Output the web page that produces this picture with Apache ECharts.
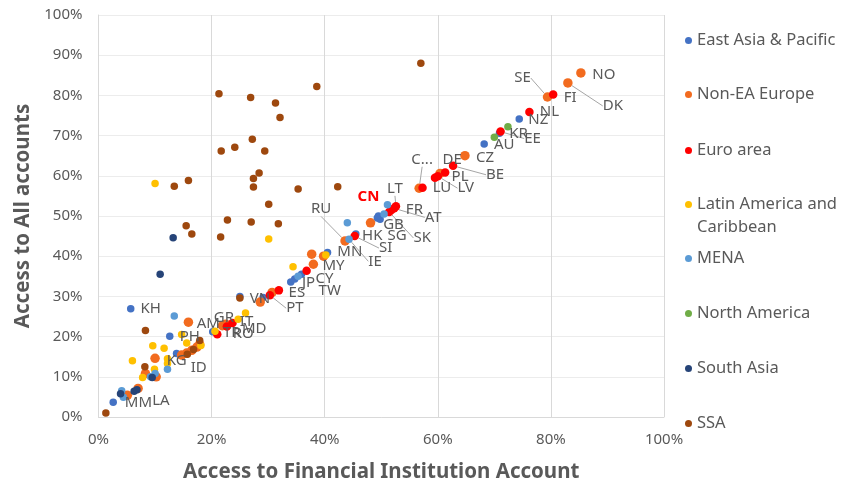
<!DOCTYPE html>
<html>
<head>
<meta charset="utf-8">
<script src="https://cdn.jsdelivr.net/npm/echarts@6/dist/echarts.min.js"></script>
<style>
  html, body { margin: 0; padding: 0; background: #fff; }
  #main { width: 842px; height: 490px; }
</style>
</head>
<body>
<div id="main"></div>
<script>
// [access to financial institution account %, access to all accounts %, label]
var eastAsiaPacific = [
  [5.7, 26.9, 'KH'], [12.6, 20.1, 'PH'], [13.8, 15.8], [15.6, 15.8, 'ID'], [2.6, 3.7],
  [20.2, 21.2], [25.0, 30.0], [29.1, 29.7, 'VN'], [34.0, 33.6], [34.7, 34.3, 'TW'],
  [35.9, 35.5, 'JP'], [40.5, 40.9, 'MY'], [45.5, 45.5, 'MN'], [49.3, 49.5, 'HK'],
  [49.8, 49.2, 'SG'], [49.5, 50.0, 'CN'], [68.2, 67.9, 'AU'], [70.9, 70.6, 'KR'], [74.4, 74.1, 'NZ']
];
var nonEaEurope = [
  [15.9, 23.6], [10.0, 14.6], [8.3, 10.8], [10.2, 10.0], [5.1, 5.4], [7.0, 7.1],
  [14.7, 15.4, 'KG'], [15.6, 15.9], [16.5, 16.6], [17.4, 17.4], [17.9, 18.0],
  [21.9, 22.7, 'AM'], [22.5, 23.1, 'TR'], [28.6, 28.6], [30.7, 31.0], [37.7, 40.5],
  [38.0, 38.0], [39.8, 40.0], [43.6, 43.8, 'RU'], [48.1, 48.3, 'GB'], [56.7, 56.9, 'C...'],
  [60.4, 60.6, 'PL'], [64.8, 65.0, 'CZ'], [79.4, 79.6, 'SE'], [83.0, 83.1, 'DK'], [85.3, 85.6, 'NO']
];
var euroArea = [
  [21.0, 20.6, 'RO'], [22.7, 22.5, 'GR'], [23.7, 23.4, 'IT'], [30.3, 30.3, 'PT'], [31.9, 31.5, 'ES'],
  [36.8, 36.4, 'CY'], [45.3, 45.0, 'SI'], [51.4, 51.0, 'SK'], [51.8, 51.5, 'FR'], [52.3, 51.9, 'AT'],
  [52.6, 52.4, 'LT'], [57.3, 57.0], [59.5, 59.5, 'LU'], [60.0, 59.9, 'LV'], [61.3, 60.8, 'DE'],
  [62.7, 62.5, 'BE'], [71.1, 71.0, 'EE'], [76.2, 75.9, 'NL'], [80.4, 80.2, 'FI']
];
var latinAmerica = [
  [10.0, 58.1], [30.1, 44.3], [14.7, 20.5], [15.6, 18.4], [9.6, 17.7], [11.6, 17.1],
  [6.0, 14.0], [12.2, 14.5], [12.2, 13.3], [18.1, 17.8], [9.9, 11.9], [7.8, 9.8],
  [20.6, 21.3], [24.7, 24.3, 'MD'], [26.0, 25.9], [34.4, 37.4], [40.2, 40.3]
];
var mena = [
  [13.4, 25.1], [12.2, 11.9], [9.2, 10.0], [10.0, 10.8], [4.1, 6.5], [4.4, 4.9, 'MM'],
  [35.3, 35.0], [44.0, 48.3], [44.3, 44.2, 'IE'], [50.5, 50.5], [51.1, 52.8]
];
var northAmerica = [[72.4, 72.2], [70.0, 69.6]];
var southAsia = [[13.2, 44.6], [10.9, 35.5], [3.9, 5.8], [6.3, 6.4], [6.8, 6.8, 'LA'], [9.5, 9.8]];
var ssa = [
  [57.0, 88.0], [38.6, 82.2], [21.3, 80.4], [26.9, 79.5], [31.3, 78.1], [32.1, 74.5],
  [27.2, 69.1], [21.7, 66.2], [24.1, 67.1], [29.4, 66.2], [28.4, 60.7], [27.4, 59.3],
  [27.4, 57.2], [35.3, 56.7], [42.3, 57.3], [15.9, 58.8], [13.4, 57.4], [30.1, 52.9],
  [22.8, 49.0], [27.0, 48.5], [31.8, 48.1], [15.5, 47.6], [16.5, 45.5], [21.6, 44.8],
  [25.0, 29.6], [8.3, 21.5], [17.9, 19.0], [15.7, 15.6], [16.8, 16.8], [8.2, 12.5], [1.3, 1.0]
];

var regionNames = ['East Asia & Pacific', 'Non-EA Europe', 'Euro area', 'Latin America and Caribbean',
  'MENA', 'North America', 'South Asia', 'SSA'];
var regionData = [eastAsiaPacific, nonEaEurope, euroArea, latinAmerica, mena, northAmerica, southAsia, ssa];
var regionColors = ['#4472C4', '#F26B1F', '#FF0000', '#FFC000', '#5B9BD5', '#70AD47', '#264478', '#9E480E'];
var regionSizes = [7.5, 9.5, 8.5, 7.5, 7.5, 7.5, 7.5, 7.5];

// label position relative to its point, in px
var labelOffsets = {
  KH: [20, 0], PH: [20, 1], ID: [12, 14], VN: [-3, 1], TW: [35, 12], JP: [7, 8], MY: [6, 13],
  HK: [-5, 18], SG: [17, 17], CN: [-10, -19], AU: [20, 1], KR: [19, 1], NZ: [19, 1], MN: [-6, 18],
  KG: [-5, 6], AM: [-14, -2], TR: [6, 9], RU: [-24, -32], GB: [23, 2], 'C...': [3, -29],
  PL: [20, 3], CZ: [20, 2], SE: [-25, -19], DK: [45, 23], NO: [23, 2],
  RO: [26, 0], GR: [-3, -9], IT: [14, -1], PT: [25, 13], ES: [18, 2], CY: [18, 8], SI: [31, 12],
  SK: [33, 26], FR: [23, 0], AT: [39, 9], LT: [-1, -18], LU: [7, 10], LV: [28, 12], DE: [7, -13],
  BE: [42, 9], EE: [32, 7], NL: [20, 0], FI: [17, 3], MD: [16, 9], IE: [26, 22], MM: [15, 5], LA: [24, 11]
};
var leaderLabels = ['SE', 'DK', 'BE', 'LV', 'C...', 'LT', 'AT', 'SK', 'SI', 'IE', 'RU', 'PT', 'EE'];

var legendTops = [27, 81, 137, 191, 245, 300, 355, 410];

var font = 'Noto Sans';
var grey = '#595959';

function toData(points) {
  return points.map(function (p) {
    if (!p[2]) return [p[0], p[1]];
    var item = { value: [p[0], p[1]], name: p[2], label: { show: true } };
    if (p[2] === 'CN') {
      item.label.color = '#FF0000';
      item.label.fontWeight = 'bold';
    }
    if (leaderLabels.indexOf(p[2]) >= 0) item.labelLine = { show: true };
    return item;
  });
}

var chart = echarts.init(document.getElementById('main'), null, { renderer: 'canvas' });

var series = regionNames.map(function (name, i) {
  return {
    name: name,
    type: 'scatter',
    data: toData(regionData[i]),
    symbolSize: regionSizes[i],
    itemStyle: { color: regionColors[i], opacity: 1 },
    label: {
      show: false,
      position: 'inside',
      formatter: '{b}',
      fontSize: 15,
      fontFamily: font,
      color: grey
    },
    labelLine: {
      show: false,
      lineStyle: { color: '#A6A6A6', width: 1 }
    },
    labelLayout: function (params) {
      var o = labelOffsets[params.text];
      return o ? { dx: o[0], dy: o[1] } : {};
    }
  };
});

var legends = regionNames.map(function (name, i) {
  return {
    orient: 'vertical',
    left: 680,
    top: legendTops[i],
    data: [name],
    icon: 'circle',
    itemWidth: 7,
    itemHeight: 7,
    itemGap: 0,
    selectedMode: false,
    formatter: function (n) {
      return n === 'Latin America and Caribbean' ? 'Latin America and' : n;
    },
    textStyle: { fontSize: 16.5, fontFamily: font, color: grey }
  };
});

chart.setOption({
  animation: false,
  backgroundColor: '#fff',
  grid: { left: 98.5, right: 178, top: 15, bottom: 73 },
  legend: legends,
  graphic: [{
    type: 'text',
    left: 697,
    top: 219,
    style: { text: 'Caribbean', fontSize: 16.5, fontFamily: font, fill: grey }
  }],
  xAxis: {
    type: 'value',
    min: 0,
    max: 100,
    interval: 20,
    name: 'Access to Financial Institution Account',
    nameLocation: 'middle',
    nameGap: 45,
    nameTextStyle: { fontSize: 20.5, fontWeight: 'bold', fontFamily: font, color: grey },
    axisLine: { show: true, lineStyle: { color: '#D9D9D9' } },
    axisTick: { show: false },
    axisLabel: { formatter: '{value}%', fontSize: 15, fontFamily: font, color: grey, margin: 15 },
    splitLine: { show: true, lineStyle: { color: '#D9D9D9', type: 'solid' } }
  },
  yAxis: {
    type: 'value',
    min: 0,
    max: 100,
    interval: 10,
    name: 'Access to All accounts',
    nameLocation: 'middle',
    nameGap: 64,
    nameTextStyle: { fontSize: 20.5, fontWeight: 'bold', fontFamily: font, color: grey },
    axisLine: { show: true, lineStyle: { color: '#D9D9D9' } },
    axisTick: { show: false },
    axisLabel: { formatter: '{value}%', fontSize: 15, fontFamily: font, color: grey, margin: 16 },
    splitLine: { show: true, lineStyle: { color: '#D9D9D9', type: 'dotted' } }
  },
  series: series
});
</script>
</body>
</html>
